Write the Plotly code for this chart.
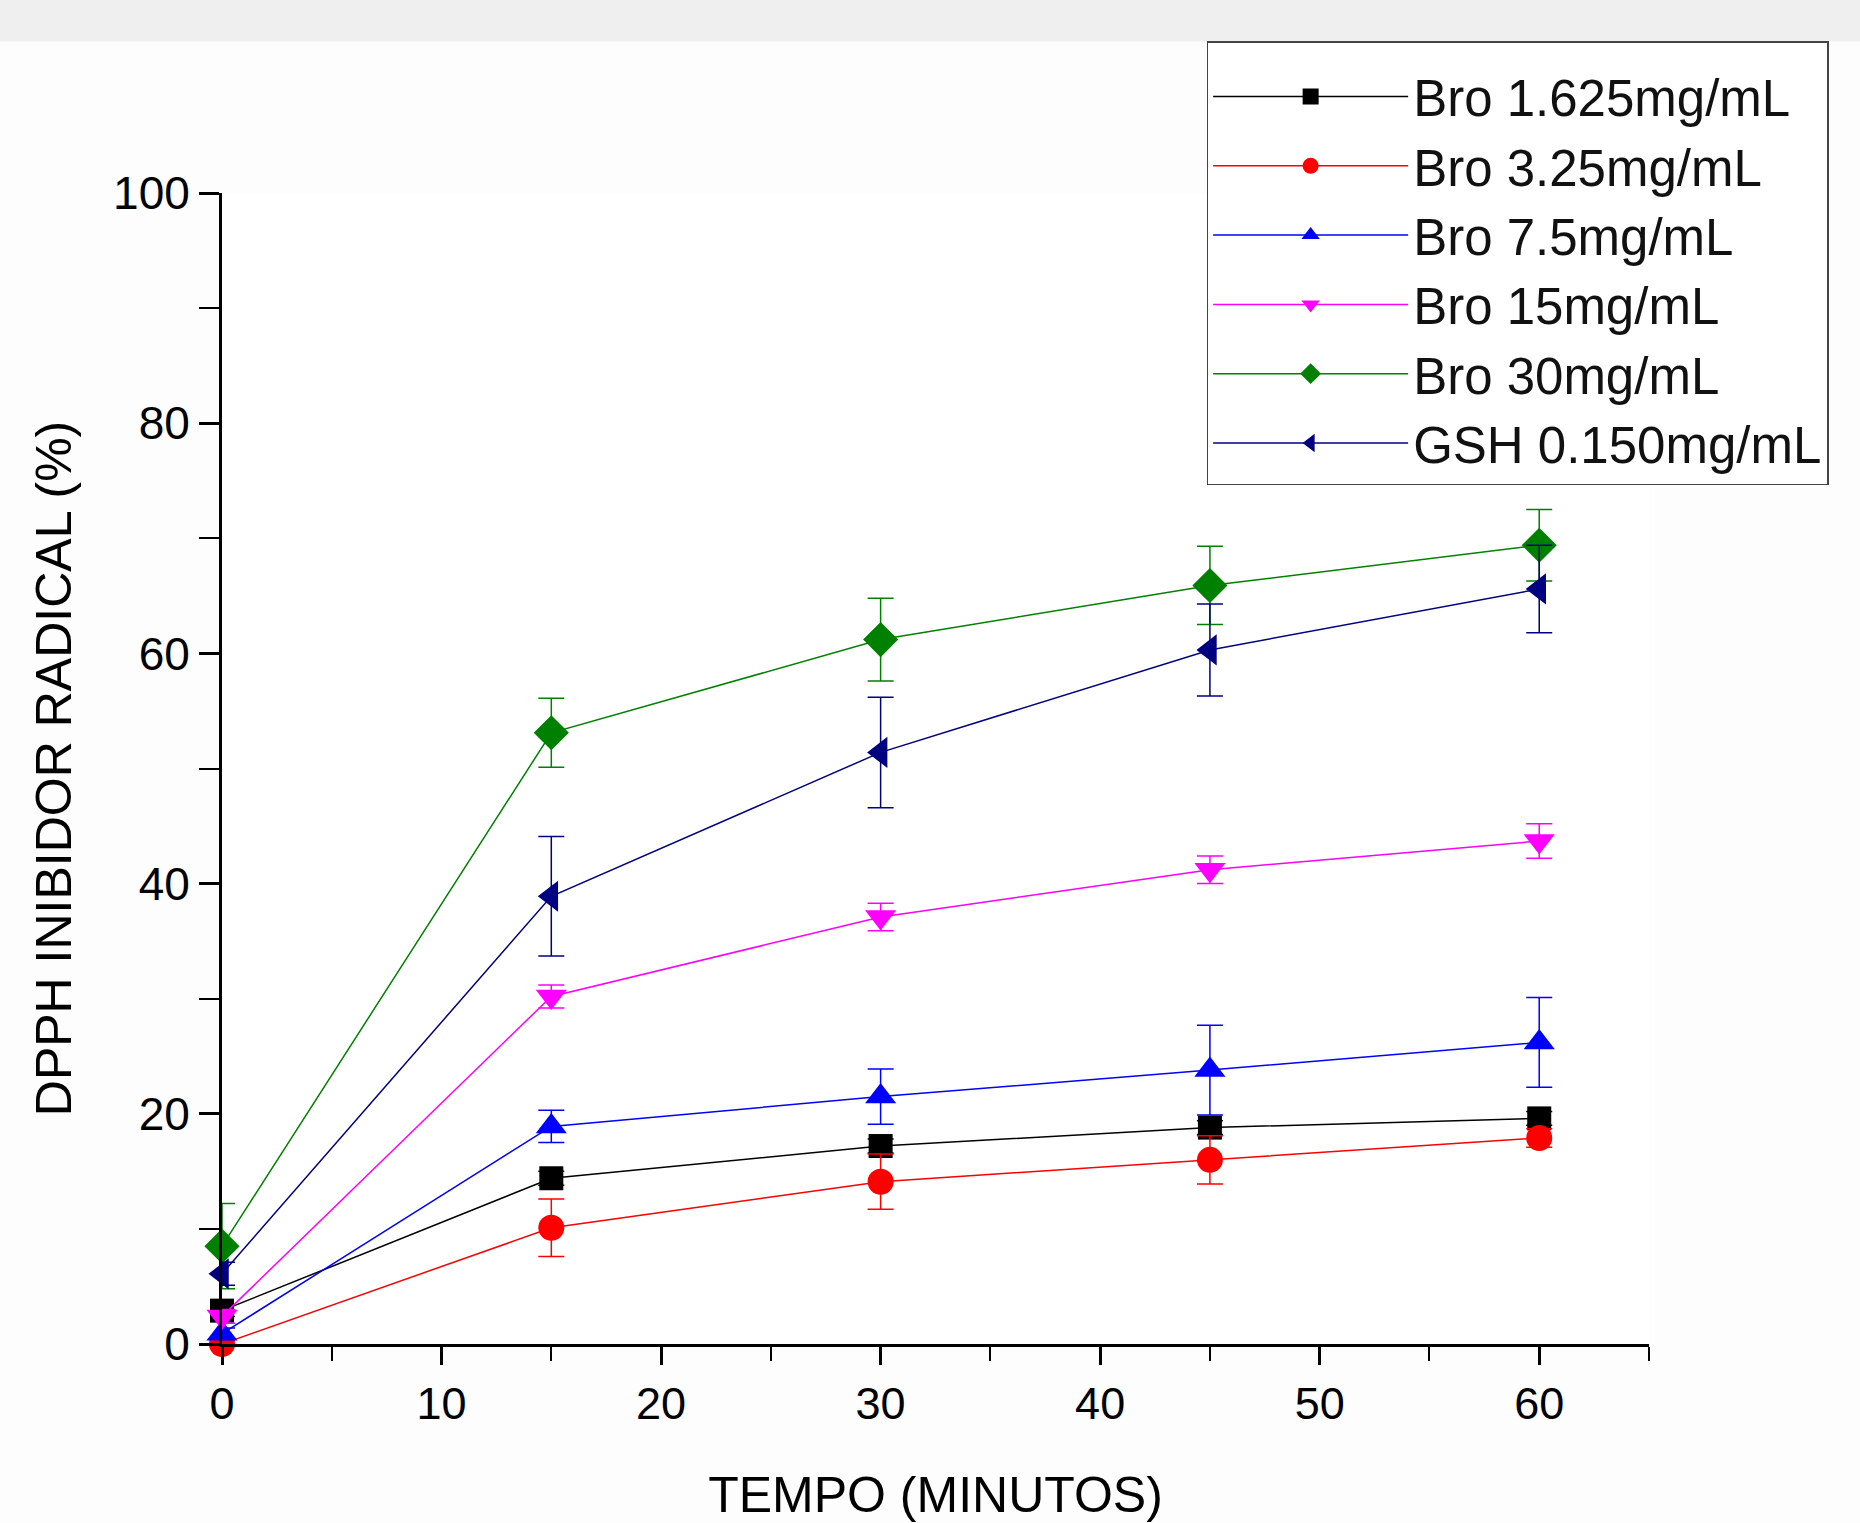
import plotly.graph_objects as go

# Data
time_min = [0, 15, 30, 45, 60]
series_names = ["Bro 1.625mg/mL", "Bro 3.25mg/mL", "Bro 7.5mg/mL",
                "Bro 15mg/mL", "Bro 30mg/mL", "GSH 0.150mg/mL"]
bro_1625 = [2.9, 14.4, 17.2, 18.8, 19.6]
bro_1625_err = [0.5, 0.6, 0.6, 0.6, 0.6]
bro_325 = [0.0, 10.1, 14.1, 16.0, 17.9]
bro_325_err = [0.3, 2.5, 2.4, 2.1, 0.8]
bro_75 = [0.9, 18.9, 21.5, 23.8, 26.2]
bro_75_err = [0.5, 1.4, 2.4, 3.9, 3.9]
bro_15 = [2.4, 30.2, 37.1, 41.2, 43.7]
bro_15_err = [0.6, 1.0, 1.2, 1.2, 1.5]
bro_30 = [8.5, 53.1, 61.2, 65.9, 69.4]
bro_30_err = [3.7, 3.0, 3.6, 3.4, 3.1]
gsh_0150 = [6.1, 38.9, 51.4, 60.3, 65.6]
gsh_0150_err = [1.0, 5.2, 4.8, 4.0, 3.8]

x_ticks = [0, 10, 20, 30, 40, 50, 60]
y_ticks = [0, 20, 40, 60, 80, 100]

values = [bro_1625, bro_325, bro_75, bro_15, bro_30, gsh_0150]
errors = [bro_1625_err, bro_325_err, bro_75_err, bro_15_err, bro_30_err, gsh_0150_err]
colors = ["#000000", "#ff0000", "#0000ff", "#ff00ff", "#008000", "#000080"]
symbols = ["square", "circle", "triangle-up", "triangle-down", "diamond", "triangle-left"]
sizes = [24, 26, 27, 27, 27, 27]

FONT = "Liberation Sans, Arial, sans-serif"

fig = go.Figure()
for name, y, e, c, s, sz in zip(series_names, values, errors, colors, symbols, sizes):
    fig.add_trace(go.Scatter(
        x=time_min, y=y, name=name, mode="lines+markers",
        line=dict(color=c, width=1.5),
        marker=dict(symbol=s, size=sz, color=c, line=dict(width=0)),
        error_y=dict(type="data", array=e, visible=True, color=c, thickness=1.5, width=13),
        cliponaxis=False,
    ))

# faint gray band at top of the image
fig.add_shape(type="rect", xref="paper", yref="paper", x0=-0.2, x1=1.2,
              y0=1.1316, y1=1.2, fillcolor="#efefef", line=dict(width=0), layer="below")

fig.update_layout(
    width=1860, height=1523,
    margin=dict(l=222, r=211, t=193, b=179, autoexpand=False),
    paper_bgcolor="#fdfdfd", plot_bgcolor="#ffffff",
    font=dict(family=FONT, color="#000000"),
    showlegend=True,
    legend=dict(
        x=0.69, y=1.132, xanchor="left", yanchor="top",
        bgcolor="#ffffff", bordercolor="#444444", borderwidth=1.5,
        font=dict(size=51, family=FONT, color="#111111"),
        title=dict(text="\u00a0", font=dict(size=11)),
        itemwidth=195, tracegroupgap=0,
    ),
    xaxis=dict(
        range=[0, 65], tickvals=x_ticks, ticks="outside", ticklen=18, tickwidth=2.5,
        tickcolor="#000000", showline=True, linecolor="#000000", linewidth=3,
        showgrid=False, zeroline=False, tickfont=dict(size=45, family=FONT),
        automargin=False,
        minor=dict(dtick=5, ticks="outside", ticklen=14, tickwidth=2, tickcolor="#000000"),
        title=dict(text="TEMPO (MINUTOS)", font=dict(size=50, family=FONT), standoff=60),
    ),
    yaxis=dict(
        range=[0, 100], tickvals=y_ticks, ticks="outside", ticklen=20, tickwidth=2.5,
        tickcolor="#000000", showline=True, linecolor="#000000", linewidth=3,
        showgrid=False, zeroline=False, tickfont=dict(size=46, family=FONT),
        automargin=False,
        minor=dict(dtick=10, ticks="outside", ticklen=20, tickwidth=2, tickcolor="#000000"),
        title=dict(text="DPPH INIBIDOR RADICAL (%)", font=dict(size=50, family=FONT), standoff=26),
    ),
)

fig.write_html("out.html", config={"displayModeBar": False},
               post_script="document.body.style.margin='0';document.body.style.overflow='hidden';")
